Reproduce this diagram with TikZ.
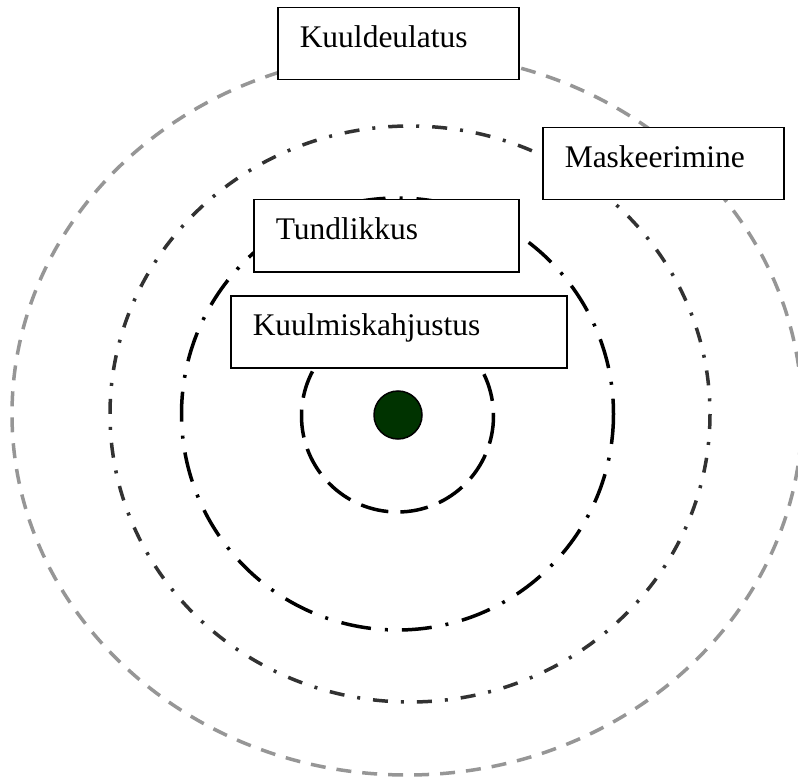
\documentclass[tikz,border=0pt]{standalone}
\usepackage{fontspec}
\setmainfont{Liberation Serif}
\definecolor{ringgray}{RGB}{150,150,150}
\definecolor{ringdark}{RGB}{50,50,50}
\definecolor{dotgreen}{RGB}{0,51,0}

\begin{document}
\begin{tikzpicture}[
		x=1pt, y=-1pt,
		labelbox/.style={draw, line width=1.5pt, fill=white, anchor=north west, inner xsep=22pt, inner ysep=0pt, minimum height=72pt, text height=20pt, text depth=12pt, align=left, font=\fontsize{31.5}{36}\selectfont},
		outerring/.style={draw=ringgray, line width=3.5pt, dash pattern=on 15pt off 11pt},
		middlering/.style={draw=ringdark, line width=3.5pt, dash pattern=on 15pt off 13pt on 3pt off 13pt},
		innerring/.style={draw=black, line width=3.5pt, dash pattern=on 30pt off 14pt on 3pt off 14pt},
		damagering/.style={draw=black, line width=3.5pt, dash pattern=on 28pt off 12pt},
		ear/.style={draw, circle, fill=dotgreen, line width=1.5pt, minimum size=48pt, inner sep=0pt}
		]
		\useasboundingbox (0,0) rectangle (798,778);

		% centres of the rings
		\coordinate (c outer) at (407,414);
		\coordinate (c middle) at (410,414);
		\coordinate (c inner) at (397.5,414);
		\coordinate (c damage) at (397.5,416);

		\path[outerring] (c outer) ellipse [x radius=395, y radius=361];
		\path[middlering] (c middle) ellipse [x radius=300, y radius=288];
		\path[innerring] (c inner) circle [radius=216];
		\path[damagering] (c damage) circle [radius=96];

		\node[ear] (ear) at (398,415) {};

		% labels
		\node[labelbox, text width=197pt] (range) at (277,7) {Kuuldeulatus};
		\node[labelbox, text width=197pt] (masking) at (542,127) {Maskeerimine};
		\node[labelbox, text width=221pt] (sensitivity) at (253,199) {Tundlikkus};
		\node[labelbox, text width=292pt] (damage) at (230,295) {Kuulmiskahjustus};

	\end{tikzpicture}
\end{document}
